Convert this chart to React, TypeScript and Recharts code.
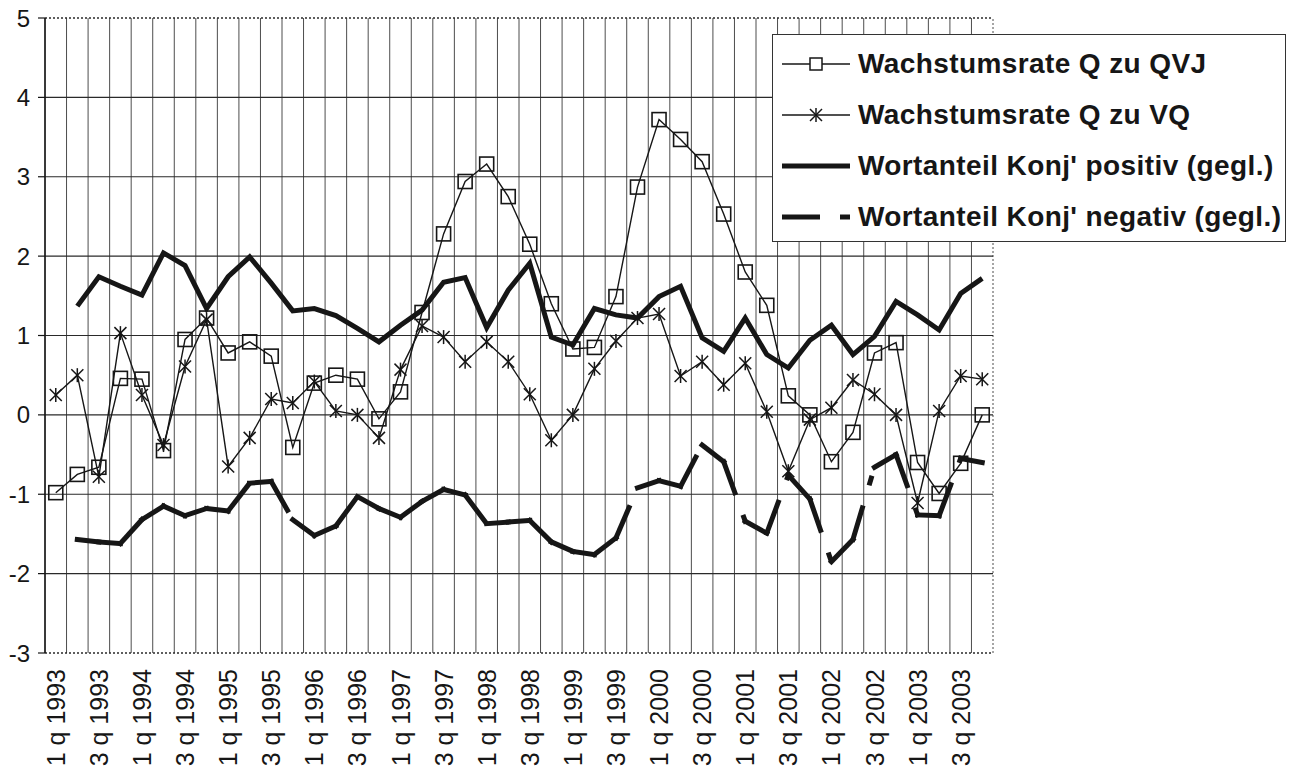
import { Line, LineChart, ReferenceLine, XAxis, YAxis } from "recharts";

const quarters = [
  "1 q 1993", "2 q 1993", "3 q 1993", "4 q 1993",
  "1 q 1994", "2 q 1994", "3 q 1994", "4 q 1994",
  "1 q 1995", "2 q 1995", "3 q 1995", "4 q 1995",
  "1 q 1996", "2 q 1996", "3 q 1996", "4 q 1996",
  "1 q 1997", "2 q 1997", "3 q 1997", "4 q 1997",
  "1 q 1998", "2 q 1998", "3 q 1998", "4 q 1998",
  "1 q 1999", "2 q 1999", "3 q 1999", "4 q 1999",
  "1 q 2000", "2 q 2000", "3 q 2000", "4 q 2000",
  "1 q 2001", "2 q 2001", "3 q 2001", "4 q 2001",
  "1 q 2002", "2 q 2002", "3 q 2002", "4 q 2002",
  "1 q 2003", "2 q 2003", "3 q 2003", "4 q 2003",
];

// Wachstumsrate Q zu QVJ (squares)
const growthQVJ = [
  -0.98, -0.75, -0.66, 0.46, 0.45, -0.45, 0.95, 1.22, 0.78, 0.92, 0.74,
  -0.41, 0.4, 0.5, 0.45, -0.05, 0.29, 1.29, 2.28, 2.94, 3.16, 2.75,
  2.15, 1.4, 0.83, 0.85, 1.49, 2.87, 3.72, 3.47, 3.19, 2.53, 1.8,
  1.38, 0.24, 0.0, -0.59, -0.22, 0.78, 0.91, -0.6, -0.99, -0.61, 0.0,
];

// Wachstumsrate Q zu VQ (stars)
const growthVQ = [
  0.25, 0.5, -0.78, 1.03, 0.25, -0.38, 0.61, 1.2, -0.65, -0.29, 0.2,
  0.15, 0.42, 0.05, 0.0, -0.29, 0.57, 1.12, 0.98, 0.67, 0.92, 0.67,
  0.26, -0.32, 0.0, 0.58, 0.93, 1.22, 1.27, 0.49, 0.67, 0.38, 0.65,
  0.04, -0.71, -0.06, 0.09, 0.44, 0.26, 0.0, -1.11, 0.05, 0.49, 0.45,
];

// Wortanteil Konj' positiv (gegl.)
const posShare = [
  null, 1.37, 1.74, 1.62, 1.51, 2.04, 1.88, 1.34, 1.74, 1.99, 1.66,
  1.31, 1.34, 1.25, 1.09, 0.92, 1.13, 1.32, 1.67, 1.73, 1.1, 1.57,
  1.91, 0.98, 0.88, 1.34, 1.26, 1.22, 1.49, 1.62, 0.97, 0.8, 1.22,
  0.76, 0.59, 0.94, 1.13, 0.76, 0.99, 1.43, 1.26, 1.07, 1.53, 1.72,
];

// Wortanteil Konj' negativ (gegl.)
const negShare = [
  null, -1.57, -1.6, -1.62, -1.32, -1.15, -1.27, -1.18, -1.21, -0.86, -0.84,
  -1.32, -1.52, -1.4, -1.03, -1.18, -1.29, -1.09, -0.94, -1.01, -1.37, -1.35,
  -1.33, -1.6, -1.72, -1.76, -1.55, -0.92, -0.83, -0.9, -0.38, -0.59, -1.34,
  -1.49, -0.76, -1.06, -1.85, -1.57, -0.66, -0.5, -1.26, -1.27, -0.55, -0.6,
];

const yTicks = [-3, -2, -1, 0, 1, 2, 3, 4, 5];

const seriesNames = [
  "Wachstumsrate Q zu QVJ",
  "Wachstumsrate Q zu VQ",
  "Wortanteil Konj' positiv (gegl.)",
  "Wortanteil Konj' negativ (gegl.)",
];

const W = 1293;
const H = 767;
const FONT = '"Liberation Sans", Arial, Helvetica, sans-serif';
const INK = "#161616";
const NEG_DASH = "33 26 5 16";

// one row per quarter; the negative series is split in per-segment keys so
// the dash pattern restarts at every point, as in the original
const rows = quarters.map((q, i) => {
  const row: Record<string, number | string | null> = {
    x: i + 0.5,
    q,
    qvj: growthQVJ[i],
    vq: growthVQ[i],
    pos: posShare[i],
  };
  if (i > 0) row[`n${i - 1}`] = negShare[i];
  if (i < quarters.length - 1) row[`n${i}`] = negShare[i];
  return row;
});

const negSegments = quarters
  .slice(0, -1)
  .map((_, i) => i)
  .filter((i) => negShare[i] != null && negShare[i + 1] != null);

const xTicks = quarters.map((_, i) => i).filter((i) => i % 2 === 0).map((i) => i + 0.5);
const boundaries = [...quarters.map((_, i) => i), quarters.length];

function QuarterTick({ x, y, payload }: any) {
  const ty = y + 16;
  return (
    <text
      x={x}
      y={ty}
      transform={`rotate(-90, ${x}, ${ty})`}
      textAnchor="end"
      dy="0.36em"
      fontSize={25}
      fontFamily={FONT}
      fill={INK}
    >
      {quarters[Math.floor(payload.value)]}
    </text>
  );
}

function squareDot(props: any) {
  const { cx, cy, index } = props;
  if (cx == null || cy == null) return <g key={`s${index}`} />;
  return (
    <rect key={`s${index}`} x={cx - 7} y={cy - 7} width={14} height={14} fill="none" stroke={INK} strokeWidth={1.6} />
  );
}

function starDot(props: any) {
  const { cx, cy, index } = props;
  if (cx == null || cy == null) return <g key={`a${index}`} />;
  const r = 7;
  const d = 6;
  return (
    <g key={`a${index}`} stroke={INK} strokeWidth={1.5}>
      <line x1={cx} y1={cy - r} x2={cx} y2={cy + r} />
      <line x1={cx - d} y1={cy - d} x2={cx + d} y2={cy + d} />
      <line x1={cx - d} y1={cy + d} x2={cx + d} y2={cy - d} />
    </g>
  );
}

function LegendSymbol({ index }: { index: number }) {
  return (
    <svg width={68} height={24} style={{ flex: "none" }}>
      {index === 0 && (
        <g>
          <line x1={0} y1={12} x2={68} y2={12} stroke={INK} strokeWidth={1.5} />
          <rect x={28} y={6} width={12} height={12} fill="#fff" stroke={INK} strokeWidth={1.5} />
        </g>
      )}
      {index === 1 && (
        <g stroke={INK} strokeWidth={1.5}>
          <line x1={0} y1={12} x2={68} y2={12} />
          <line x1={34} y1={5} x2={34} y2={19} />
          <line x1={28} y1={6} x2={40} y2={18} />
          <line x1={28} y1={18} x2={40} y2={6} />
        </g>
      )}
      {index === 2 && <line x1={0} y1={12} x2={68} y2={12} stroke={INK} strokeWidth={5} />}
      {index === 3 && (
        <g stroke={INK} strokeWidth={5}>
          <line x1={0} y1={12} x2={38} y2={12} />
          <line x1={58} y1={12} x2={68} y2={12} />
        </g>
      )}
    </svg>
  );
}

export default function App() {
  return (
    <div style={{ position: "absolute", left: 0, top: 0, width: W, height: H, background: "#fff", fontFamily: FONT, overflow: "hidden" }}>
      <LineChart width={W} height={H} data={rows} margin={{ top: 18, right: 300, bottom: 0, left: 0 }}>
        <XAxis
          type="number"
          dataKey="x"
          domain={[0, quarters.length]}
          ticks={xTicks}
          interval={0}
          tick={<QuarterTick />}
          tickLine={false}
          tickSize={0}
          tickMargin={0}
          axisLine={false}
          height={114}
        />
        <YAxis
          type="number"
          domain={[-3, 5]}
          ticks={yTicks}
          interval={0}
          width={45}
          tickSize={7}
          tickMargin={8}
          tick={{ fontSize: 24, fill: INK, fontFamily: FONT }}
          axisLine={{ stroke: INK, strokeWidth: 1.5 }}
          tickLine={{ stroke: INK, strokeWidth: 1.2 }}
        />
        {boundaries.map((b) => (
          <ReferenceLine
            key={`v${b}`}
            x={b}
            stroke="#4d4d4d"
            strokeWidth={1}
            strokeDasharray={b === quarters.length ? "2 2" : undefined}
          />
        ))}
        {yTicks.map((t) => (
          <ReferenceLine
            key={`h${t}`}
            y={t}
            stroke="#2a2a2a"
            strokeWidth={t === 5 || t === -3 ? 1.5 : 1.2}
            strokeDasharray={t === 5 || t === -3 ? "2 2" : undefined}
          />
        ))}
        <Line
          dataKey="pos"
          stroke={INK}
          strokeWidth={5}
          dot={false}
          activeDot={false}
          isAnimationActive={false}
          legendType="none"
        />
        {negSegments.map((k) => (
          <Line
            key={`n${k}`}
            dataKey={`n${k}`}
            stroke={INK}
            strokeWidth={5}
            strokeDasharray={NEG_DASH}
            strokeLinecap="square"
            dot={false}
            activeDot={false}
            isAnimationActive={false}
            legendType="none"
          />
        ))}
        <Line
          dataKey="vq"
          stroke={INK}
          strokeWidth={1.4}
          dot={starDot}
          activeDot={false}
          isAnimationActive={false}
          legendType="none"
        />
        <Line
          dataKey="qvj"
          stroke={INK}
          strokeWidth={1.4}
          dot={squareDot}
          activeDot={false}
          isAnimationActive={false}
          legendType="none"
        />
      </LineChart>
      <div
        style={{
          position: "absolute",
          left: 772,
          top: 34,
          width: 514,
          height: 208,
          boxSizing: "border-box",
          border: "1.5px solid #333",
          background: "#fff",
          paddingTop: 3,
          paddingLeft: 9,
        }}
      >
        {seriesNames.map((name, i) => (
          <div key={name} style={{ display: "flex", alignItems: "center", height: 51 }}>
            <LegendSymbol index={i} />
            <span style={{ marginLeft: 8, fontSize: 28, fontWeight: 700, color: INK, whiteSpace: "nowrap", letterSpacing: 0.4 }}>
              {name}
            </span>
          </div>
        ))}
      </div>
    </div>
  );
}
